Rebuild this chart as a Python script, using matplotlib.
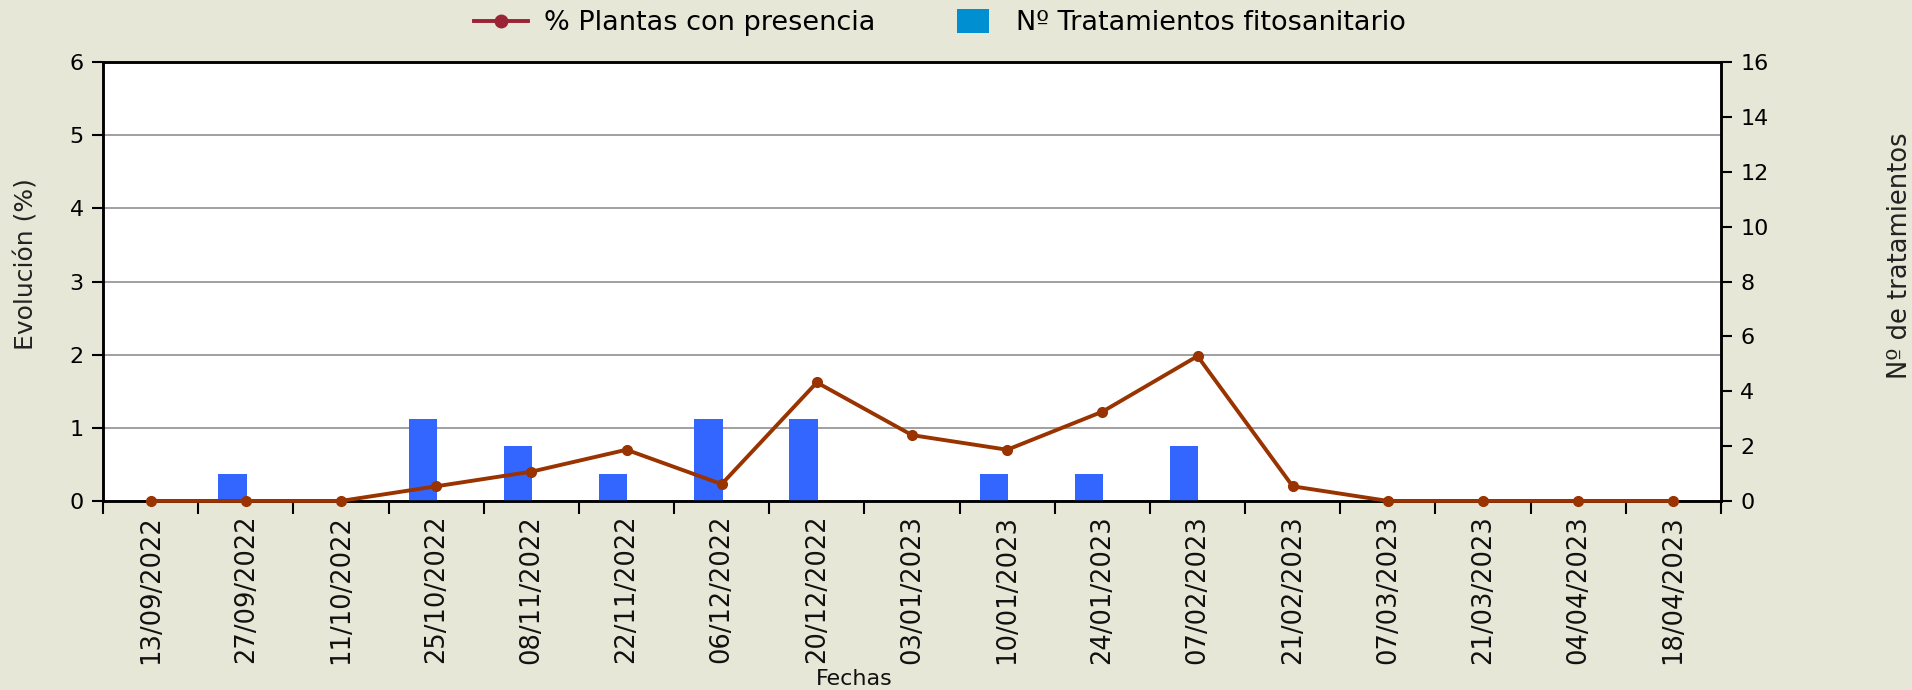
import matplotlib
matplotlib.use("Agg")
import matplotlib.pyplot as plt
from matplotlib.lines import Line2D
from matplotlib.patches import Patch, Rectangle
from matplotlib.legend_handler import HandlerPatch
import numpy as np

# data
fechas = ["13/09/2022", "27/09/2022", "11/10/2022", "25/10/2022", "08/11/2022",
          "22/11/2022", "06/12/2022", "20/12/2022", "03/01/2023", "10/01/2023",
          "24/01/2023", "07/02/2023", "21/02/2023", "07/03/2023", "21/03/2023",
          "04/04/2023", "18/04/2023"]
plantas_pct = [0, 0, 0, 0.2, 0.4, 0.7, 0.23, 1.62, 0.9, 0.7, 1.22, 1.98, 0.2, 0, 0, 0, 0]
tratamientos = [0, 1, 0, 3, 2, 1, 3, 3, 0, 1, 1, 2, 0, 0, 0, 0, 0]

bg = "#e7e7d7"
plt.rcParams['font.family'] = ['DejaVu Sans']

fig = plt.figure(figsize=(19.12, 6.9), dpi=100, facecolor=bg)
ax = fig.add_axes([0.0539, 0.274, 0.8462, 0.636])
ax.set_facecolor("white")
ax2 = ax.twinx()

x = np.arange(len(fechas))

# bars on the right axis, slightly left of the category centre
ax2.bar(x - 0.14, tratamientos, width=0.3, color="#3366ff", zorder=1)
# line uses the left axis scale but is drawn above the bars
ax2.plot(x, plantas_pct, color="#993300", lw=2.8, marker="o", ms=7,
         transform=ax.transData, zorder=3, clip_on=False)

ax.set_xlim(-0.5, len(fechas) - 0.5)
ax.set_ylim(0, 6)
ax2.set_ylim(0, 16)
ax.set_yticks(range(0, 7))
ax2.set_yticks(range(0, 17, 2))

ax.yaxis.grid(True, color="#999999", lw=1.3)
ax.set_axisbelow(True)

ax.set_xticks(x)
ax.set_xticklabels(fechas, rotation=90, fontsize=18.5, color="#111111")
ax.set_xticks(np.arange(-0.5, len(fechas)), minor=True)
ax.tick_params(axis="x", which="major", length=0, pad=10)
ax.tick_params(axis="x", which="minor", length=9, width=1.5, direction="out")
ax.tick_params(axis="y", labelsize=16, length=8, width=1.5, pad=6)
ax2.tick_params(axis="y", labelsize=16, length=8, width=1.5, pad=6)

for a in (ax, ax2):
    for s in a.spines.values():
        s.set_linewidth(1.8)
        s.set_color("black")

ax.set_ylabel("Evolución (%)", fontsize=18, labelpad=16, color="#222222")
ax.yaxis.set_label_coords(-0.040, 0.54)
fig.text(0.9937, 0.63, "Nº de tratamientos", rotation=90, fontsize=18.5,
         ha="center", va="center", color="#222222")
fig.text(0.447, 0.016, "Fechas", fontsize=16, ha="center", va="center", color="#111111")


def small_square(legend, orig_handle, xdescent, ydescent, width, height, fontsize):
    # narrower, taller box than the default legend patch
    w = width * 0.6
    h = height * 1.25
    return Rectangle((-xdescent + (width - w) / 2, -ydescent - (h - height) / 2), w, h)


handles = [Line2D([0], [0], color="#9b2335", lw=2.8, marker="o", ms=9),
           Patch(facecolor="#008fd1", edgecolor="none")]
fig.legend(handles, ["% Plantas con presencia", "Nº Tratamientos fitosanitario"],
           loc="center", bbox_to_anchor=(0.4916, 0.966), ncol=2, frameon=False,
           fontsize=19.5, handlelength=2.0, columnspacing=2.6, handletextpad=0.6,
           handler_map={Patch: HandlerPatch(patch_func=small_square)})

fig.savefig("out.png", dpi=100, facecolor=bg)
